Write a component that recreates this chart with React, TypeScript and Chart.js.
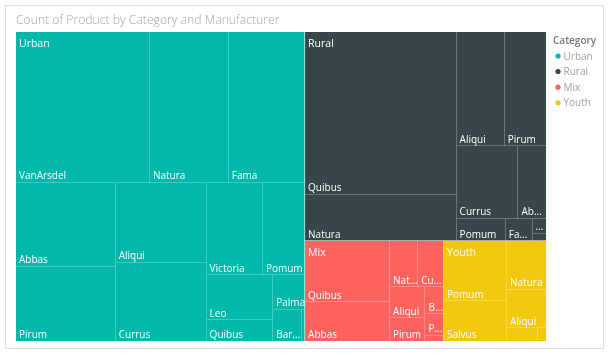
import React, { useEffect, useRef } from "react";
import { Chart, registerables } from "chart.js";

Chart.register(...registerables);

const TITLE = "Count of Product by Category and Manufacturer";
const LEGEND_TITLE = "Category";

const categories = ["Urban", "Rural", "Mix", "Youth"];
const categoryColors = ["#01B8AA", "#374649", "#FD625E", "#F2C80F"];

const urbanManufacturers = ["VanArsdel", "Natura", "Fama", "Abbas", "Pirum", "Aliqui", "Currus", "Victoria", "Pomum", "Leo", "Quibus", "Palma", "Barba", "Salvus"];
const urbanCounts = [202, 119, 115, 84, 74, 73, 71, 52, 39, 30, 14, 11, 9, 1];

const ruralManufacturers = ["Quibus", "Natura", "Aliqui", "Pirum", "Currus", "Abbas", "Pomum", "Fama", "VanArsdel", "Salvus"];
const ruralCounts = [247, 70, 55, 47, 45, 20, 11, 6, 2, 1];

const mixManufacturers = ["Quibus", "Abbas", "Natura", "Currus", "Aliqui", "Pirum", "Barba", "Pomum", "Leo"];
const mixCounts = [52, 33, 13, 12, 11, 8, 5, 4, 1];

const youthManufacturers = ["Pomum", "Salvus", "Natura", "Aliqui", "Leo", "Fama"];
const youthCounts = [38, 25, 19, 15, 4, 1];

const manufacturersByCategory = [urbanManufacturers, ruralManufacturers, mixManufacturers, youthManufacturers];
const countsByCategory = [urbanCounts, ruralCounts, mixCounts, youthCounts];

const FONT = "'Open Sans', 'Noto Sans', sans-serif";
const PHI = (1 + Math.sqrt(5)) / 2;

type Rect = { x0: number; y0: number; x1: number; y1: number; value: number; index: number };

// d3-style squarified treemap layout (golden-ratio target)
function squarify(values: number[], X0: number, Y0: number, X1: number, Y1: number): Rect[] {
  const nodes: Rect[] = values.map((v, i) => ({ x0: 0, y0: 0, x1: 0, y1: 0, value: v, index: i }));
  let x0 = X0, y0 = Y0;
  const x1 = X1, y1 = Y1;
  let value = values.reduce((a, b) => a + b, 0);
  let i0 = 0, i1 = 0;
  const n = nodes.length;
  while (i0 < n) {
    const dx = x1 - x0, dy = y1 - y0;
    let sumValue = nodes[i1++].value;
    let minValue = sumValue, maxValue = sumValue;
    const alpha = Math.max(dy / dx, dx / dy) / (value * PHI);
    let beta = sumValue * sumValue * alpha;
    let minRatio = Math.max(maxValue / beta, beta / minValue);
    for (; i1 < n; ++i1) {
      const nv = nodes[i1].value;
      sumValue += nv;
      if (nv < minValue) minValue = nv;
      if (nv > maxValue) maxValue = nv;
      beta = sumValue * sumValue * alpha;
      const newRatio = Math.max(maxValue / beta, beta / minValue);
      if (newRatio > minRatio) {
        sumValue -= nv;
        break;
      }
      minRatio = newRatio;
    }
    const row = nodes.slice(i0, i1);
    if (dx < dy) {
      const yb = value ? y0 + (dy * sumValue) / value : y1;
      let x = x0;
      const k = (x1 - x0) / sumValue;
      row.forEach((r) => {
        r.x0 = x;
        x += r.value * k;
        r.x1 = x;
        r.y0 = y0;
        r.y1 = yb;
      });
      y0 = yb;
    } else {
      const xb = value ? x0 + (dx * sumValue) / value : x1;
      let y = y0;
      const k = (y1 - y0) / sumValue;
      row.forEach((r) => {
        r.y0 = y;
        y += r.value * k;
        r.y1 = y;
        r.x0 = x0;
        r.x1 = xb;
      });
      x0 = xb;
    }
    value -= sumValue;
    i0 = i1;
  }
  return nodes;
}

function fitLabel(ctx: CanvasRenderingContext2D, name: string, avail: number): string | null {
  if (ctx.measureText(name).width <= avail) return name;
  for (let k = name.length - 1; k >= 1; k--) {
    const t = name.slice(0, k) + "...";
    if (ctx.measureText(t).width <= avail) return t;
  }
  if (ctx.measureText("...").width <= avail) return "...";
  return null;
}

const treemapPlugin = {
  id: "treemapPlugin",
  afterDraw(chart: any) {
    const ctx: CanvasRenderingContext2D = chart.ctx;
    const xs = chart.scales.x;
    const ys = chart.scales.y;
    const X0 = xs.getPixelForValue(0);
    const X1 = xs.getPixelForValue(1);
    const Y0 = ys.getPixelForValue(0);
    const Y1 = ys.getPixelForValue(1);
    ctx.save();

    // frame
    ctx.strokeStyle = "#dedede";
    ctx.lineWidth = 1;
    ctx.strokeRect(5.5, 5.5, 598, 343);

    // title
    ctx.fillStyle = "#a6a6a6";
    ctx.font = `300 12.2px ${FONT}`;
    ctx.textBaseline = "alphabetic";
    ctx.textAlign = "left";
    ctx.fillText(TITLE, 16, 24);

    // legend
    ctx.fillStyle = "#777777";
    ctx.font = `600 10px ${FONT}`;
    ctx.fillText(LEGEND_TITLE, 553, 44);
    ctx.font = `10px ${FONT}`;
    categories.forEach((c, i) => {
      const cy = 56 + i * 15.6;
      ctx.fillStyle = categoryColors[i];
      ctx.beginPath();
      ctx.arc(558, cy, 2.6, 0, Math.PI * 2);
      ctx.fill();
      ctx.fillStyle = "#a0a0a0";
      ctx.fillText(c, 563.5, cy + 3.5);
    });

    const catTotals = countsByCategory.map((arr) => arr.reduce((a, b) => a + b, 0));
    const catRects = squarify(catTotals, X0, Y0, X1, Y1);

    catRects.forEach((cr) => {
      const ci = cr.index;
      const leaves = squarify(countsByCategory[ci], cr.x0, cr.y0, cr.x1, cr.y1);
      ctx.fillStyle = categoryColors[ci];
      ctx.fillRect(cr.x0, cr.y0, cr.x1 - cr.x0, cr.y1 - cr.y0);
      ctx.strokeStyle = "rgba(255,255,255,0.25)";
      ctx.lineWidth = 1;
      leaves.forEach((l) => {
        ctx.beginPath();
        const lx = Math.round(l.x1) - 0.5;
        const ly = Math.round(l.y1) - 0.5;
        if (Math.round(l.x1) < Math.round(cr.x1)) {
          ctx.moveTo(lx, Math.round(l.y0));
          ctx.lineTo(lx, Math.round(l.y1));
        }
        if (Math.round(l.y1) < Math.round(cr.y1)) {
          ctx.moveTo(Math.round(l.x0), ly);
          ctx.lineTo(Math.round(l.x1), ly);
        }
        ctx.stroke();
      });
      // leaf labels
      ctx.fillStyle = "#ffffff";
      ctx.font = `10px ${FONT}`;
      leaves.forEach((l) => {
        const w = l.x1 - l.x0;
        const h = l.y1 - l.y0;
        if (h < 14) return;
        const label = fitLabel(ctx, manufacturersByCategory[ci][l.index], w - 2.5);
        if (!label) return;
        ctx.fillText(label, l.x0 + 3, l.y1 - 3.5);
      });
      // category label
      ctx.font = `10.5px ${FONT}`;
      ctx.fillText(categories[ci], cr.x0 + 3, cr.y0 + 14.5);
    });

    // category separators
    ctx.strokeStyle = "rgba(255,255,255,0.55)";
    ctx.lineWidth = 1;
    catRects.forEach((cr) => {
      ctx.beginPath();
      if (Math.round(cr.x1) < Math.round(X1)) {
        ctx.moveTo(Math.round(cr.x1) - 0.5, cr.y0);
        ctx.lineTo(Math.round(cr.x1) - 0.5, cr.y1);
      }
      if (Math.round(cr.y1) < Math.round(Y1)) {
        ctx.moveTo(cr.x0, Math.round(cr.y1) - 0.5);
        ctx.lineTo(cr.x1, Math.round(cr.y1) - 0.5);
      }
      ctx.stroke();
    });
    ctx.restore();
  },
};

export default function App() {
  const ref = useRef<HTMLCanvasElement | null>(null);
  useEffect(() => {
    if (!ref.current) return;
    const chart = new Chart(ref.current, {
      type: "scatter",
      data: {
        datasets: categories.map((c, i) => ({
          label: c,
          data: [],
          backgroundColor: categoryColors[i],
        })),
      },
      options: {
        responsive: false,
        animation: false,
        layout: { padding: { left: 16, top: 32, right: 64, bottom: 14 } },
        scales: {
          x: { type: "linear", min: 0, max: 1, display: false },
          y: { type: "linear", min: 0, max: 1, reverse: true, display: false },
        },
        plugins: {
          legend: { display: false },
          title: { display: false },
          tooltip: { enabled: false },
        },
      },
      plugins: [treemapPlugin],
    } as any);
    return () => chart.destroy();
  }, []);
  return (
    <div style={{ position: "fixed", left: 0, top: 0, width: 610, height: 355, background: "#fff" }}>
      <canvas ref={ref} width={610} height={355} />
    </div>
  );
}
